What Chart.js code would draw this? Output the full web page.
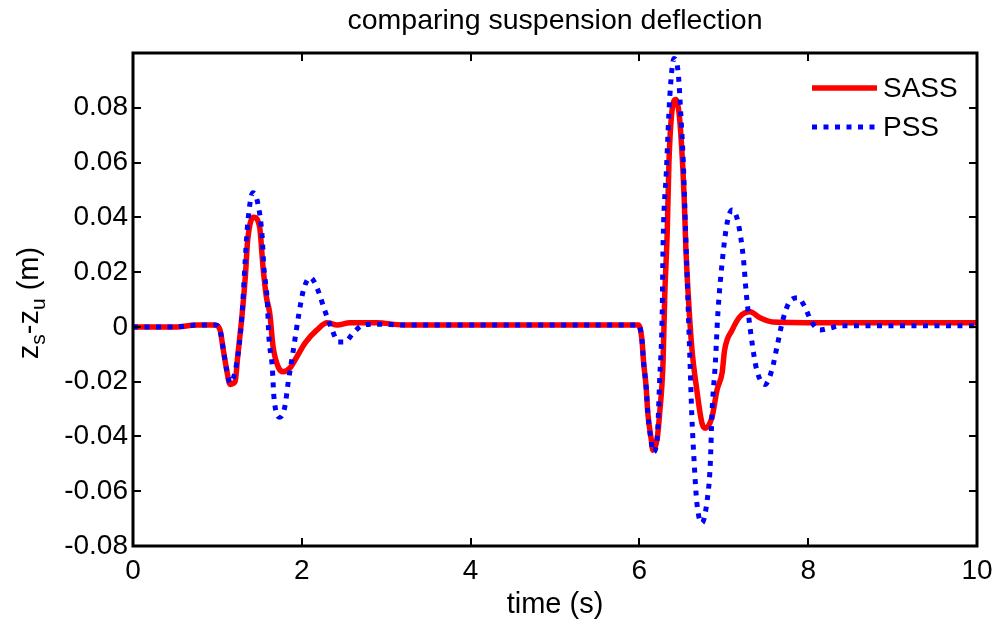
<!DOCTYPE html>
<html>
<head>
<meta charset="utf-8">
<script src="https://cdn.jsdelivr.net/npm/chart.js@4.4.1/dist/chart.umd.min.js"></script>
<style>
html,body{margin:0;padding:0;background:#fff;}
#wrap{width:995px;height:624px;}
</style>
</head>
<body>
<div id="wrap"><canvas id="c" width="995" height="624"></canvas></div>
<script>
// ---- data ----
const titleText = 'comparing suspension deflection';
const xTitle = 'time (s)';
const seriesNames = ['SASS', 'PSS'];
const xTicks = [0, 2, 4, 6, 8, 10];
const yTicks = [-0.08, -0.06, -0.04, -0.02, 0, 0.02, 0.04, 0.06, 0.08];

const sassT = [0, 0.5, 0.76, 0.97, 1.03, 1.07, 1.11, 1.15, 1.21, 1.24, 1.29, 1.33, 1.36, 1.43, 1.50, 1.54, 1.58, 1.62, 1.66, 1.72, 1.78, 1.86, 1.94, 2.04, 2.18, 2.30, 2.42, 2.57, 2.89, 3.2, 4.0, 5.0, 5.99,
  6.03, 6.05, 6.08, 6.10, 6.14, 6.16, 6.21, 6.24, 6.28, 6.30, 6.33, 6.35, 6.38, 6.43, 6.47, 6.50, 6.53, 6.55, 6.58, 6.62, 6.68, 6.74, 6.78, 6.86, 6.92, 6.98, 7.01, 7.10, 7.19, 7.31, 7.43, 7.58, 8.3, 9.0, 10];
const sassV = [0, 0, 0.0007, 0.0007, -0.001, -0.0084, -0.0157, -0.021, -0.020, -0.011, 0.0037, 0.018, 0.032, 0.040, 0.0365, 0.022, 0.011, 0.005, -0.0073, -0.0146, -0.0164, -0.015, -0.011, -0.0058, -0.0011, 0.0015, 0.0007, 0.0015, 0.0015, 0.0007, 0.0007, 0.0007, 0.0007,
  -0.0047, -0.013, -0.022, -0.0315, -0.041, -0.045, -0.041, -0.0315, -0.013, 0.011, 0.035, 0.060, 0.077, 0.083, 0.078, 0.066, 0.0475, 0.029, 0.011, -0.0073, -0.023, -0.035, -0.037, -0.033, -0.023, -0.0168, -0.0084, -0.0011, 0.0037, 0.0055, 0.0033, 0.0018, 0.0015, 0.0015, 0.0015];

const pssT = [0, 0.5, 0.76, 0.97, 1.03, 1.07, 1.11, 1.15, 1.23, 1.29, 1.33, 1.36, 1.42, 1.48, 1.53, 1.55, 1.59, 1.61, 1.65, 1.67, 1.74, 1.80, 1.84, 1.90, 1.96, 2.02, 2.10, 2.19, 2.27, 2.36, 2.43, 2.51, 2.61, 2.73, 2.89, 3.2, 4.0, 5.0, 5.99,
  6.03, 6.05, 6.08, 6.10, 6.14, 6.16, 6.21, 6.24, 6.27, 6.28, 6.32, 6.36, 6.41, 6.46, 6.49, 6.52, 6.54, 6.56, 6.58, 6.60, 6.62, 6.65, 6.68, 6.74, 6.80, 6.84, 6.86, 6.90, 6.93, 6.98, 7.04, 7.10, 7.17, 7.23, 7.27, 7.33, 7.39, 7.49, 7.57, 7.63, 7.70, 7.78, 7.88, 7.96, 8.04, 8.14, 8.26, 8.38, 9.0, 10];
const pssV = [0, 0, 0.0007, 0.0007, -0.001, -0.0084, -0.0157, -0.0205, -0.013, 0.0037, 0.0245, 0.038, 0.049, 0.045, 0.033, 0.022, 0.0099, -0.0037, -0.0146, -0.0256, -0.033, -0.029, -0.020, -0.0084, 0.0037, 0.0135, 0.018, 0.0135, 0.0062, -0.0011, -0.0055, -0.0055, -0.0022, 0.0007, 0.001, 0.0007, 0.0007, 0.0007, 0.0007,
  -0.0047, -0.013, -0.022, -0.0315, -0.042, -0.0457, -0.041, -0.0194, 0.005, 0.029, 0.057, 0.084, 0.098, 0.0927, 0.078, 0.060, 0.0416, 0.0234, 0.005, -0.013, -0.0315, -0.050, -0.064, -0.0716, -0.064, -0.050, -0.0315, -0.013, 0.005, 0.0234, 0.038, 0.0427, 0.038, 0.0256, 0.011, -0.0047, -0.0157, -0.021, -0.0157, -0.0073, 0.0026, 0.0092, 0.0106, 0.0073, 0.0018, -0.0011, -0.0004, 0.0004, 0.0004, 0.0004];

// ---- chart ----
const FONT = '"Liberation Sans", Arial, Helvetica, sans-serif';
const toXY = (ts, vs) => ts.map((t, i) => ({x: t, y: vs[i]}));

const decor = {
  id: 'decor',
  afterDraw(chart) {
    const ctx = chart.ctx;
    const a = chart.chartArea;
    const xs = chart.scales.x, ys = chart.scales.y;
    ctx.save();
    // box
    ctx.strokeStyle = '#000';
    ctx.lineWidth = 3;
    ctx.strokeRect(a.left, a.top, a.right - a.left, a.bottom - a.top);
    // inward ticks on all sides
    ctx.lineWidth = 2;
    const TL = 8;
    ctx.beginPath();
    xTicks.forEach(v => {
      const p = Math.round(xs.getPixelForValue(v));
      ctx.moveTo(p, a.bottom); ctx.lineTo(p, a.bottom - TL);
      ctx.moveTo(p, a.top); ctx.lineTo(p, a.top + TL);
    });
    yTicks.forEach(v => {
      const p = Math.round(ys.getPixelForValue(v));
      ctx.moveTo(a.left, p); ctx.lineTo(a.left + TL, p);
      ctx.moveTo(a.right, p); ctx.lineTo(a.right - TL, p);
    });
    ctx.stroke();
    // title
    ctx.fillStyle = '#000';
    ctx.font = '28.5px ' + FONT;
    ctx.textAlign = 'center';
    ctx.textBaseline = 'middle';
    ctx.fillText(titleText, (a.left + a.right) / 2, 21);
    // x title
    ctx.font = '29px ' + FONT;
    ctx.fillText(xTitle, (a.left + a.right) / 2, 605);
    // y title with subscripts: z_s-z_u (m)
    ctx.save();
    ctx.translate(30, 303);
    ctx.rotate(-Math.PI / 2);
    const big = '29px ' + FONT, small = '21px ' + FONT;
    const parts = [['z', big, 0], ['s', small, 9], ['-z', big, 0], ['u', small, 9], [' (m)', big, 0]];
    let total = 0;
    parts.forEach(p => { ctx.font = p[1]; total += ctx.measureText(p[0]).width; });
    let x = -total / 2;
    ctx.textAlign = 'left';
    ctx.textBaseline = 'middle';
    parts.forEach(p => {
      ctx.font = p[1];
      ctx.fillText(p[0], x, p[2]);
      x += ctx.measureText(p[0]).width;
    });
    ctx.restore();
    // legend
    const ds = chart.data.datasets;
    const legY = [88, 127];
    ds.forEach((d, i) => {
      ctx.save();
      ctx.strokeStyle = d.borderColor;
      ctx.lineWidth = d.borderWidth;
      ctx.lineCap = 'butt';
      ctx.setLineDash(d.borderDash || []);
      ctx.beginPath();
      ctx.moveTo(812, legY[i]); ctx.lineTo(877, legY[i]);
      ctx.stroke();
      ctx.restore();
      ctx.fillStyle = '#000';
      ctx.font = '28px ' + FONT;
      ctx.textAlign = 'left';
      ctx.textBaseline = 'middle';
      ctx.fillText(d.label, 883, legY[i] + 1);
    });
    ctx.restore();
  }
};

new Chart(document.getElementById('c'), {
  type: 'line',
  data: {
    datasets: [
      { label: seriesNames[0], data: toXY(sassT, sassV), borderColor: '#ff0000', borderWidth: 5.5, pointRadius: 0, cubicInterpolationMode: 'monotone', order: 2, fill: false },
      { label: seriesNames[1], data: toXY(pssT, pssV), borderColor: '#0000ff', borderWidth: 5, borderDash: [5, 6.5], borderCapStyle: 'butt', pointRadius: 0, cubicInterpolationMode: 'monotone', order: 1, fill: false }
    ]
  },
  options: {
    responsive: false,
    animation: false,
    events: [],
    layout: { padding: { top: 53, right: 18, left: 0, bottom: 0 } },
    plugins: { legend: { display: false }, title: { display: false }, tooltip: { enabled: false } },
    scales: {
      x: {
        type: 'linear', min: 0, max: 10,
        afterFit: s => { s.height = 78; s.paddingLeft = 0; s.paddingRight = 0; },
        afterBuildTicks: s => { s.ticks = xTicks.map(v => ({value: v})); },
        grid: { display: false, drawTicks: false },
        border: { display: false },
        ticks: { color: '#000', font: { family: FONT, size: 28 }, padding: 8, maxRotation: 0, callback: v => String(v) }
      },
      y: {
        type: 'linear', min: -0.08, max: 0.1,
        afterFit: s => { s.width = 133; s.paddingTop = 0; s.paddingBottom = 0; },
        afterBuildTicks: s => { s.ticks = yTicks.map(v => ({value: v})); },
        grid: { display: false, drawTicks: false },
        border: { display: false },
        ticks: { color: '#000', font: { family: FONT, size: 28 }, padding: 5, callback: v => (Math.abs(v) < 1e-9 ? '0' : v.toFixed(2)) }
      }
    }
  },
  plugins: [decor]
});
</script>
</body>
</html>
